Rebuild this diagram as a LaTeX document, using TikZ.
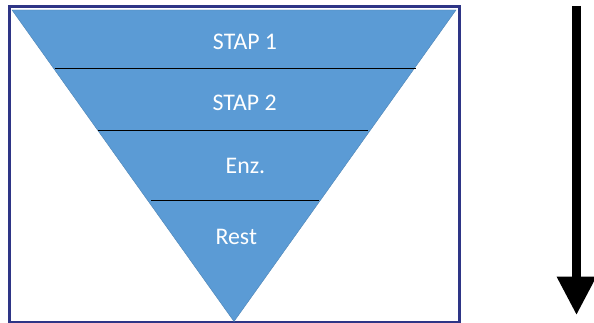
\documentclass[tikz,border=0pt]{standalone}
\usepackage{fontspec}
\setmainfont{Carlito}
\usetikzlibrary{arrows.meta}
\usepackage{xcolor}
\definecolor{funnelblue}{HTML}{5B9BD5}
\definecolor{framenavy}{HTML}{2E3586}

\begin{document}
\begin{tikzpicture}[
      x=1pt, y=-1pt, % picture measured in pixels, top down
      frame/.style={draw=framenavy, line width=3pt},
      funnel/.style={fill=funnelblue, draw=funnelblue!85!black, line width=0.4pt},
      divider/.style={draw=black, line width=1pt},
      steptext/.style={text=white, font=\fontsize{23.8}{28}\selectfont, inner sep=0pt, anchor=base},
      line/.style={draw, line width=8.3pt, -{Triangle[width=37.3pt, length=38.3pt]}}
  ]
      \useasboundingbox (0,0) rectangle (594,323);

      % Frame and funnel
      \path [frame] (9.5,6.5) rectangle (459,322);
      \path [funnel] (12,10) -- (456,10) -- (234,321.5) -- cycle;

      % Dividers between the steps
      \path [divider] (55,68.3) -- (416,68.3);
      \path [divider] (98,131) -- (368,131);
      \path [divider] (151,201) -- (319,201);

      % Nodes - one label per step
      \node (stap1) [steptext] at (245,49.3) {STAP 1};
      \node (stap2) [steptext] at (244.7,111) {STAP 2};
      \node (enz) [steptext] at (245.5,173.3) {Enz.};
      \node (rest) [steptext] at (236.3,244.3) {Rest};

      % Arrow on the right
      \coordinate (arrow_top) at (576.5,6);
      \coordinate (arrow_end) at (576.5,315);
      \path [line] (arrow_top) -- (arrow_end);
  \end{tikzpicture}
\end{document}
